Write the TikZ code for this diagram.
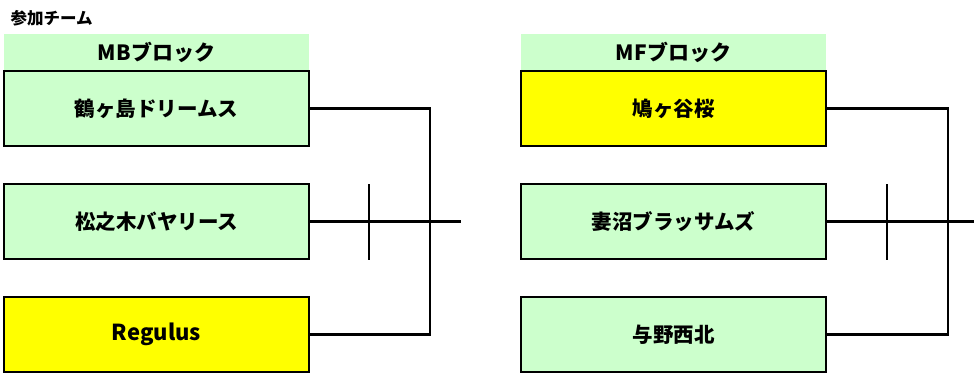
\documentclass[tikz,border=0pt]{standalone}
\usepackage{fontspec}
\setmainfont{Noto Sans CJK JP}
\usepackage{tikz}
\definecolor{teamgreen}{HTML}{CCFFCC}
\definecolor{teamyellow}{HTML}{FFFF00}
\tikzset{
    head/.style={fill=teamgreen, minimum width=305pt, minimum height=37pt, inner sep=0pt},
    team/.style={draw, line width=2.2pt, fill=teamgreen, minimum width=305pt, minimum height=75pt, inner sep=0pt},
    win/.style={team, fill=teamyellow},
}

\begin{document}
\begin{tikzpicture}[x=1pt, y=-1pt, font=\fontsize{20.5}{24}\selectfont\bfseries, line width=2.2pt]
    \useasboundingbox (0, 0) rectangle (974, 372);
    \node (title) [anchor=west, font=\fontsize{16.5}{19}\selectfont\bfseries, inner sep=0pt] at (9.5, 18) {参加チーム};

    % MB block
    \node (mbhead) [head] at (156.5, 52.5) {\fontsize{21}{24}\selectfont MBブロック};
    \node (mb1) [team] at (156.5, 108.5) {鶴ヶ島ドリームス};
    \node (mb2) [team] at (156.5, 221.5) {松之木バヤリース};
    \node (mb3) [win] at (156.5, 334.5) {\fontsize{22}{24}\selectfont Regulus};
    \coordinate (mbjoin) at (430, 221.5);
    \coordinate (mbout) at (461, 221.5);
    \coordinate (mbtop) at (369, 184);
    \coordinate (mbbot) at (369, 260);

    \draw (mb1.east) -| (mbjoin) |- (mb3.east);
    \draw (mb2.east) -- (mbout);
    \draw (mbtop) -- (mbbot);

    % MF block
    \node (mfhead) [head] at (673.5, 52.5) {\fontsize{21}{24}\selectfont MFブロック};
    \node (mf1) [win] at (673.5, 108.5) {鳩ヶ谷桜};
    \node (mf2) [team] at (673.5, 221.5) {妻沼ブラッサムズ};
    \node (mf3) [team] at (673.5, 334.5) {与野西北};
    \coordinate (mfjoin) at (948, 221.5);
    \coordinate (mfout) at (974, 221.5);
    \coordinate (mftop) at (887, 184);
    \coordinate (mfbot) at (887, 260);

    \draw (mf1.east) -| (mfjoin) |- (mf3.east);
    \draw (mf2.east) -- (mfout);
    \draw (mftop) -- (mfbot);
\end{tikzpicture}
\end{document}
